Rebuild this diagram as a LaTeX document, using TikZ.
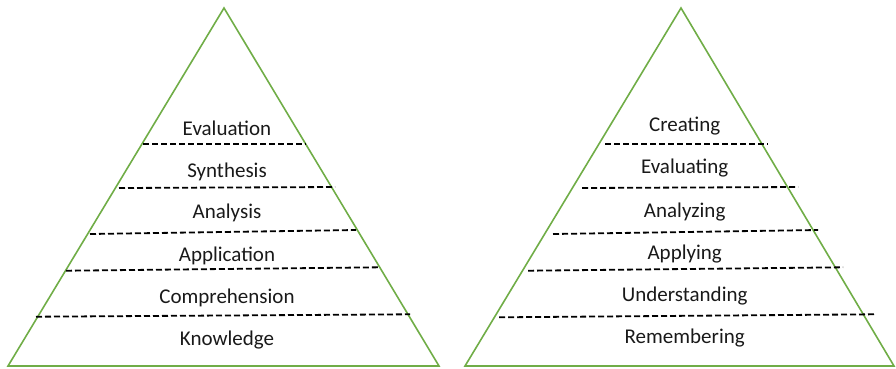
\documentclass[tikz,border=0pt]{standalone}
\usepackage{fontspec}
\setmainfont{Carlito}
\definecolor{pgreen}{RGB}{112,173,71}
\definecolor{ptext}{RGB}{25,25,25}
\begin{document}
\begin{tikzpicture}[x=1pt,y=-1pt,
  tri/.style={draw=pgreen,line width=1.6pt,line join=miter},
  sep/.style={draw=black,line width=1.8pt,dash pattern=on 6pt off 3pt},
  lab/.style={font=\fontsize{21}{24}\selectfont,text=ptext,inner sep=0pt,anchor=center}]
\useasboundingbox (0,0) rectangle (896,368);
% left pyramid
\draw[tri] (224,8) -- (439,366) -- (8,366) -- cycle;
\draw[sep] (143,144.3) -- (306,144.3);
\draw[sep] (119,188) -- (335,187);
\draw[sep] (90,234) -- (356,230);
\draw[sep] (66,270.7) -- (380,267.3);
\draw[sep] (36,316.7) -- (410,314.3);
\node[lab] (l1) at (227,128.3) {Evaluation};
\node[lab] (l2) at (227,171.7) {Synthesis};
\node[lab] (l3) at (227,213.3) {Analysis};
\node[lab] (l4) at (227,255.7) {Application};
\node[lab] (l5) at (227,297.7) {Comprehension};
\node[lab] (l6) at (227,340) {Knowledge};
% right pyramid
\draw[tri] (681,8) -- (894,366) -- (465,366) -- cycle;
\draw[sep] (605,144.3) -- (768,144.3);
\draw[sep] (582,188) -- (798,187);
\draw[sep] (553,234) -- (818,230);
\draw[sep] (528,270.7) -- (843,267.3);
\draw[sep] (499,317.3) -- (874,314.3);
\node[lab] (r1) at (684.7,126) {Creating};
\node[lab] (r2) at (684.7,168.3) {Evaluating};
\node[lab] (r3) at (684.7,211.7) {Analyzing};
\node[lab] (r4) at (684.7,254) {Applying};
\node[lab] (r5) at (684.7,296) {Understanding};
\node[lab] (r6) at (684.7,338.3) {Remembering};
\end{tikzpicture}
\end{document}
